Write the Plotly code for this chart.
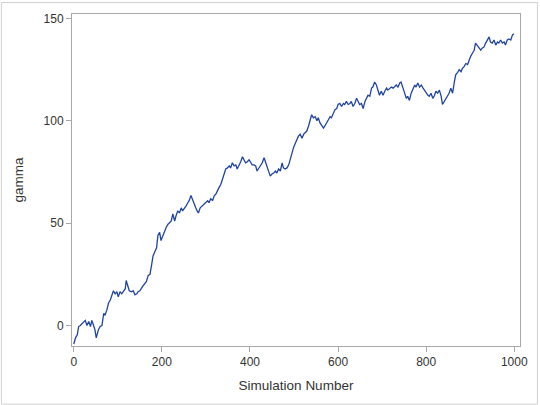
import plotly.graph_objects as go

# values
sim_number = [
    0, 4, 8, 11, 15, 19, 23, 26, 30, 34, 38, 41, 45, 48, 51, 56, 60, 64, 68, 71,
    75, 79, 83, 87, 90, 94, 98, 101, 105, 109, 113, 117, 119, 122, 126, 131, 135, 139, 143, 146,
    150, 156, 162, 165, 169, 173, 177, 180, 184, 188, 191, 195, 198, 202, 206, 210, 214, 217, 221, 225,
    229, 232, 236, 240, 244, 247, 251, 255, 259, 262, 266, 270, 274, 277, 280, 283, 287, 292, 296, 300,
    304, 307, 311, 315, 319, 322, 326, 330, 334, 338, 341, 345, 349, 353, 356, 360, 364, 368, 371, 375,
    379, 383, 387, 390, 394, 398, 401, 405, 409, 413, 416, 420, 424, 428, 432, 435, 439, 443, 446, 450,
    454, 458, 461, 465, 469, 473, 476, 480, 484, 488, 491, 495, 499, 503, 507, 510, 514, 518, 522, 525,
    529, 533, 537, 540, 544, 548, 552, 555, 559, 563, 567, 570, 574, 578, 582, 585, 589, 593, 597, 600,
    604, 608, 612, 615, 619, 623, 627, 630, 634, 638, 642, 645, 649, 653, 657, 661, 664, 668, 672, 676,
    679, 683, 687, 691, 694, 698, 702, 706, 710, 713, 717, 721, 725, 728, 732, 736, 740, 743, 747, 751,
    755, 758, 762, 766, 770, 774, 777, 781, 785, 789, 793, 796, 800, 804, 807, 811, 815, 819, 822, 826,
    830, 834, 837, 841, 845, 849, 852, 856, 860, 864, 867, 871, 875, 879, 882, 886, 890, 894, 897, 901,
    905, 909, 912, 916, 920, 924, 927, 931, 935, 939, 943, 946, 950, 954, 958, 962, 965, 969, 973, 977,
    980, 984, 988, 992, 996, 999,
]
gamma = [
    -9, -6, -4.5, -0.5, 0, 1, 2, 2.5, 0, 2, -0.5, 2.5, 0, -2, -6, -2, -0.5, 0, 6, 5,
    7.5, 11, 12.5, 15.5, 17, 15.5, 16.5, 14, 16.5, 15.5, 17, 18, 22, 20, 17, 16.5, 17, 15, 15.5, 16.5,
    17, 19, 21, 21.5, 24.5, 25, 30, 34, 36, 38, 44, 45.5, 41.5, 44, 46, 48, 49.5, 50, 51, 54.5,
    51, 53.5, 56, 55, 57.5, 56, 57, 58.5, 60, 61, 63.5, 61, 59, 57.5, 56, 55, 57.5, 58.5, 59.5, 60,
    61, 60, 62, 61, 63.5, 64, 66, 67.5, 69, 71.5, 73, 76.5, 77, 78, 77, 79.5, 78, 78.5, 76.5, 78,
    80, 82.5, 81, 79.5, 80, 81, 80, 78.5, 78.5, 78, 75.5, 77, 78.5, 79.5, 82, 80, 78.5, 75.5, 73, 74,
    74.5, 75.5, 74.5, 76.5, 75.5, 79.5, 77, 76.5, 77, 78.5, 81, 84.5, 87, 89, 91.5, 92.5, 93.5, 91.5, 93.5, 94,
    95, 97.5, 101.5, 103, 101.5, 102, 100, 101.5, 99, 98, 96.5, 97.5, 99, 100, 102, 101.5, 104, 105.5, 106, 108,
    108.5, 107, 108.5, 108, 109.5, 108, 108.5, 109.5, 107, 108.5, 111, 109.5, 108, 108.5, 106, 109.5, 111, 112.5, 112, 116,
    116.5, 119, 117.5, 115, 112.5, 114.5, 112.5, 114.5, 116, 115, 116, 116.5, 116, 116.5, 117.5, 116.5, 118.5, 119, 116.5, 113.5,
    111, 112, 110, 113.5, 116, 117.5, 116.5, 118.5, 116.5, 117.5, 116, 115, 113.5, 112.5, 112, 113.5, 111, 112.5, 114.5, 113.5,
    115, 112, 108, 109.5, 110.5, 112, 113.5, 116, 113.5, 119, 122.5, 123.5, 125, 124, 125.5, 126.5, 128, 127.5, 129.5, 131.5,
    133, 134.5, 138, 137, 136, 134.5, 135.5, 136, 138, 139.5, 141, 138.5, 138, 139.5, 137, 138.5, 138, 139.5, 138, 138.5,
    137, 139.5, 140, 139.5, 142, 142.5,
]
x_ticks = [0, 200, 400, 600, 800, 1000]
y_ticks = [0, 50, 100, 150]

W, H = 540, 405
ml, mr, mt, mb = 71.5, 18, 12, 59
pw, ph = W - ml - mr, H - mt - mb

fig = go.Figure()
fig.add_trace(go.Scatter(x=sim_number, y=gamma, mode="lines",
                         line=dict(color="#1f44a0", width=1.3),
                         showlegend=False))

axis_style = dict(showline=True, linecolor="#a8a8a8", linewidth=1, mirror=True,
                  ticks="outside", ticklen=5, tickcolor="#a8a8a8", showgrid=False,
                  zeroline=False, tickfont=dict(family="Liberation Sans", size=12, color="#333333"))

fig.update_xaxes(range=[-4, 1013], tickvals=x_ticks,
                 title=dict(text="Simulation Number", standoff=12,
                            font=dict(family="Liberation Sans", size=13.5, color="#333333")),
                 **axis_style)
fig.update_yaxes(range=[-10, 152.2], tickvals=y_ticks,
                 title=dict(text="gamma", standoff=16,
                            font=dict(family="Liberation Sans", size=13.5, color="#333333")),
                 **axis_style)

# light border round the whole picture
fig.add_shape(type="rect", xref="paper", yref="paper", layer="below",
              x0=-(ml - 0.5) / pw, x1=1 + (mr - 0.5) / pw,
              y0=-(mb - 0.5) / ph, y1=1 + (mt - 0.5) / ph,
              line=dict(color="#d0d0d0", width=1))

fig.update_layout(width=W, height=H, margin=dict(l=ml, r=mr, t=mt, b=mb),
                  paper_bgcolor="white", plot_bgcolor="white")

fig.write_html("out.html", config={"displayModeBar": False},
               post_script="document.body.style.margin='0';")
